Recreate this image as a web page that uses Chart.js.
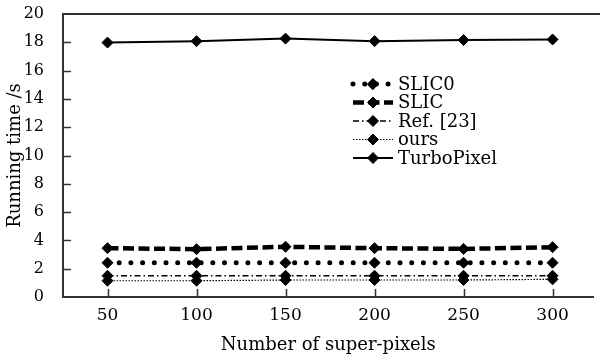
<!DOCTYPE html>
<html>
<head>
<meta charset="utf-8">
<script src="https://cdn.jsdelivr.net/npm/chart.js@4.4.1/dist/chart.umd.min.js"></script>
<style>
  html, body { margin: 0; padding: 0; background: #fff; }
  #wrap { width: 600px; height: 362px; }
</style>
</head>
<body>
<div id="wrap"><canvas id="timeChart" width="600" height="362"></canvas></div>
<script>
// x: number of super-pixels, y: running time in seconds
const superPixels = [50, 100, 150, 200, 250, 300];
const yTicks = [0, 2, 4, 6, 8, 10, 12, 14, 16, 18, 20];

const slic0 = [2.42, 2.42, 2.42, 2.42, 2.42, 2.42];
const slic = [3.45, 3.38, 3.55, 3.45, 3.4, 3.52];
const ref23 = [1.5, 1.5, 1.5, 1.5, 1.5, 1.5];
const ours = [1.15, 1.15, 1.2, 1.2, 1.2, 1.25];
const turboPixel = [17.98, 18.08, 18.26, 18.08, 18.16, 18.2];

const FONT = "'DejaVu Serif', 'Liberation Serif', serif";

function series(label, values, width, dash, cap) {
    return {
        label: label,
        data: superPixels.map((x, i) => ({ x: x, y: values[i] })),
        borderColor: '#000',
        backgroundColor: '#000',
        borderWidth: width,
        borderDash: dash,
        borderCapStyle: cap || 'butt',
        pointStyle: 'rectRot',
        pointRadius: 5.5,
        pointBorderWidth: 1,
        pointBackgroundColor: '#000',
        pointBorderColor: '#000',
        tension: 0,
        fill: false
    };
}

// inward tick marks, top frame line and the in-plot legend
const framePlugin = {
    id: 'frame',
    afterDraw(chart) {
        const ctx = chart.ctx;
        const area = chart.chartArea;
        const xs = chart.scales.x, ys = chart.scales.y;
        ctx.save();
        ctx.strokeStyle = '#333';
        ctx.lineWidth = 2;
        ctx.beginPath();
        ctx.moveTo(area.left - 1, area.top);
        ctx.lineTo(chart.width, area.top);
        ctx.stroke();

        ctx.lineWidth = 1.5;
        ctx.beginPath();
        superPixels.forEach(v => {
            const px = Math.round(xs.getPixelForValue(v)) + 0.5;
            ctx.moveTo(px, area.bottom);
            ctx.lineTo(px, area.bottom - 8);
        });
        yTicks.slice(1, -1).forEach(v => {
            const py = Math.round(ys.getPixelForValue(v)) + 0.5;
            ctx.moveTo(area.left, py);
            ctx.lineTo(area.left + 8, py);
        });
        ctx.stroke();

        // legend
        const lx = 353, ly = 84, rowH = 18.5, len = 40;
        chart.data.datasets.forEach((ds, i) => {
            const y = ly + i * rowH;
            ctx.save();
            ctx.strokeStyle = '#000';
            ctx.lineWidth = ds.borderWidth;
            ctx.lineCap = ds.borderCapStyle;
            ctx.setLineDash(ds.borderDash || []);
            ctx.beginPath();
            ctx.moveTo(lx, y);
            ctx.lineTo(lx + len, y);
            ctx.stroke();
            ctx.setLineDash([]);
            ctx.lineWidth = 1;
            ctx.fillStyle = '#000';
            Chart.helpers.drawPoint(ctx, { pointStyle: 'rectRot', radius: 5.5, borderWidth: 1 }, lx + len / 2, y);
            ctx.restore();
            ctx.fillStyle = '#000';
            ctx.font = "18px " + FONT;
            ctx.textBaseline = 'middle';
            ctx.textAlign = 'left';
            ctx.fillText(ds.label, lx + len + 5, y + 1);
        });
        ctx.restore();
    }
};

const ctxTime = document.getElementById('timeChart').getContext('2d');
const timeChart = new Chart(ctxTime, {
    type: 'line',
    data: {
        datasets: [
            series('SLIC0', slic0, 5, [0, 11.7], 'round'),
            series('SLIC', slic, 4.5, [11, 4.5]),
            series('Ref. [23]', ref23, 1.5, [6, 3, 1.5, 3]),
            series('ours', ours, 1.2, [1.5, 1.5]),
            series('TurboPixel', turboPixel, 2, [])
        ]
    },
    options: {
        responsive: false,
        animation: false,
        layout: { padding: { top: 14, right: 0, left: 0, bottom: 0 } },
        scales: {
            x: {
                type: 'linear',
                min: 25,
                max: 323,
                afterBuildTicks: scale => { scale.ticks = superPixels.map(v => ({ value: v })); },
                afterFit: scale => {
                    scale.height = 65;
                    scale.paddingLeft = 0;
                    scale.paddingRight = 0;
                },
                grid: { display: false },
                border: { display: true, color: '#333', width: 2 },
                ticks: { color: '#000', padding: 0, font: { family: FONT, size: 17 } },
                title: {
                    display: true,
                    text: 'Number of super-pixels',
                    color: '#000',
                    padding: { top: 2, bottom: 6 },
                    font: { family: FONT, size: 18 }
                }
            },
            y: {
                min: 0,
                max: 20,
                afterBuildTicks: scale => { scale.ticks = yTicks.map(v => ({ value: v })); },
                afterFit: scale => {
                    scale.width = 63;
                    scale.paddingTop = 0;
                    scale.paddingBottom = 0;
                },
                grid: { display: false },
                border: { display: true, color: '#333', width: 2 },
                ticks: { color: '#000', padding: 11, font: { family: FONT, size: 16 } },
                title: {
                    display: true,
                    text: 'Running time /s',
                    color: '#000',
                    padding: { top: 5, bottom: 0 },
                    font: { family: FONT, size: 18 }
                }
            }
        },
        plugins: {
            legend: { display: false },
            tooltip: { enabled: false }
        }
    },
    plugins: [framePlugin]
});
</script>
</body>
</html>
